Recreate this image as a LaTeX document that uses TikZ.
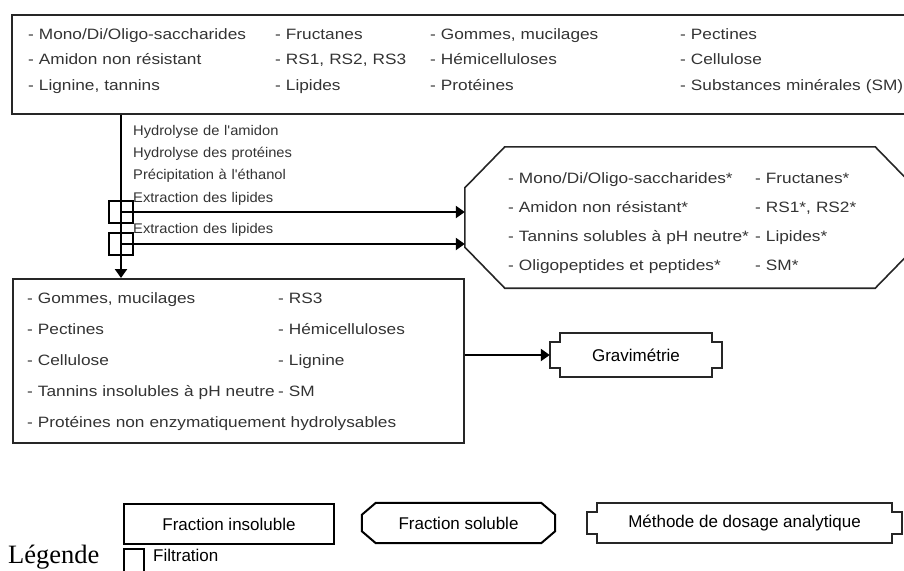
\documentclass[tikz,border=0pt]{standalone}
\usepackage{fontspec}
\setmainfont{Liberation Sans}
\newfontfamily\itemfamily{Liberation Sans}[FakeStretch=1.15]
\newfontfamily\stepfamily{Liberation Sans}[FakeStretch=1.05]
\newfontfamily\legendfamily{Liberation Serif}
\usepackage{tikz}
\usetikzlibrary{arrows.meta,positioning,calc}

% frame with square notches at the four corners
\newcommand{\notchframe}[1]{%
  \draw[frame] ([xshift=10pt]#1.north west) -- ([xshift=-10pt]#1.north east)
    -- ([xshift=-10pt,yshift=-9pt]#1.north east) -- ([yshift=-9pt]#1.north east)
    -- ([yshift=9pt]#1.south east) -- ([xshift=-10pt,yshift=9pt]#1.south east)
    -- ([xshift=-10pt]#1.south east) -- ([xshift=10pt]#1.south west)
    -- ([xshift=10pt,yshift=9pt]#1.south west) -- ([yshift=9pt]#1.south west)
    -- ([yshift=-9pt]#1.north west) -- ([xshift=10pt,yshift=-9pt]#1.north west)
    -- cycle;}
% frame with cut corners (octagon)
\newcommand{\chamferframe}[4][frame]{%
  \draw[#1] ([xshift=#3]#2.north west) -- ([xshift=-#3]#2.north east)
    -- ([yshift=-#4]#2.north east) -- ([yshift=#4]#2.south east)
    -- ([xshift=-#3]#2.south east) -- ([xshift=#3]#2.south west)
    -- ([yshift=#4]#2.south west) -- ([yshift=-#4]#2.north west) -- cycle;}

\begin{document}
\begin{tikzpicture}[x=1pt,y=-1pt,
          frame/.style={draw=black!85,line width=1.6pt,inner sep=0pt},
          box/.style={frame,rectangle,anchor=north west},
          items/.style={anchor=base west,inner sep=0pt,text width=420pt,
                        align=left,text=black!80,
                        font=\itemfamily\fontsize{15}{#1}\selectfont},
          steps/.style={anchor=base west,inner sep=0pt,text width=200pt,
                        align=left,text=black!80,
                        font=\stepfamily\fontsize{14}{22.4}\selectfont},
          legtxt/.style={font=\fontsize{17}{20}\selectfont},
          filter/.style={draw,line width=1.5pt,minimum width=24pt,
                         minimum height=22pt,inner sep=0pt},
          flow/.style={line width=2.2pt,-{Triangle[length=9pt,width=12pt]}}
        ]
        \useasboundingbox (0,0) rectangle (904,570);

        % echantillon de depart
        \node[box,minimum width=900pt,minimum height=99pt] (topbox) at (11,14) {};
        \node[items=25.5] (topA) at (28,39)
          {- Mono/Di/Oligo-saccharides\\- Amidon non résistant\\- Lignine, tannins};
        \node[items=25.5] (topB) at (275,39) {- Fructanes\\- RS1, RS2, RS3\\- Lipides};
        \node[items=25.5] (topC) at (430,39)
          {- Gommes, mucilages\\- Hémicelluloses\\- Protéines};
        \node[items=25.5] (topD) at (680,39)
          {- Pectines\\- Cellulose\\- Substances minérales (SM)};

        % etapes
        \node[steps] (stepA) at (133,135) {Hydrolyse de l'amidon\\Hydrolyse des protéines\\
          Précipitation à l'éthanol\\Extraction des lipides};
        \node[steps] (stepB) at (133,233) {Extraction des lipides};
        \node[filter] (filt1) at (121,212) {};
        \node[filter] (filt2) at (121,244) {};

        % fraction soluble
        \node[inner sep=0pt,minimum width=450pt,minimum height=141pt] (sol) at (690,217.5) {};
        \chamferframe{sol}{40pt}{41pt}
        \node[items=29] (solA) at (508,183)
          {- Mono/Di/Oligo-saccharides*\\- Amidon non résistant*\\
           - Tannins solubles à pH neutre*\\- Oligopeptides et peptides*};
        \node[items=29] (solB) at (755,183)
          {- Fructanes*\\- RS1*, RS2*\\- Lipides*\\- SM*};

        % fraction insoluble
        \node[box,minimum width=451pt,minimum height=164pt] (insol) at (12,278) {};
        \node[items=31.2] (insA) at (27,303)
          {- Gommes, mucilages\\- Pectines\\- Cellulose\\- Tannins insolubles à pH neutre\\
           - Protéines non enzymatiquement hydrolysables};
        \node[items=31.2] (insB) at (278,303) {- RS3\\- Hémicelluloses\\- Lignine\\- SM};

        \node[legtxt,minimum width=172pt,minimum height=44pt,inner sep=0pt]
          (grav) at (636,355) {Gravimétrie};
        \notchframe{grav}

        \draw[flow] (topbox.south -| filt1) -- (insol.north -| filt1);
        \draw[flow] (filt1.center) -- (filt1 -| sol.west);
        \draw[flow] (filt2.center) -- (filt2 -| sol.west);
        \draw[flow] (insol.east |- grav.west) -- (grav.west);

        % legende
        \node[box,legtxt,line width=2pt,draw=black,minimum width=210pt,minimum height=40pt]
          (leginsol) at (123,503) {Fraction insoluble};
        \node[legtxt,inner sep=0pt,minimum width=193pt,minimum height=40pt]
          (legsol) at (458.5,523) {Fraction soluble};
        \chamferframe[frame,draw=black,line width=2pt]{legsol}{14pt}{12pt}
        \node[legtxt,minimum width=315pt,minimum height=40pt,inner sep=0pt]
          (legdos) at (744.5,523) {Méthode de dosage analytique};
        \notchframe{legdos}
        \node[anchor=base west,inner sep=0pt,font=\legendfamily\fontsize{26.5}{30}\selectfont]
          (legende) at (8,563) {Légende};
        \node[filter,anchor=north west,minimum width=20pt,minimum height=24pt]
          (legfilt) at (123,548) {};
        \node[legtxt,anchor=base west,inner sep=0pt] (legfilttxt) at (153,561) {Filtration};
      \end{tikzpicture}
\end{document}
